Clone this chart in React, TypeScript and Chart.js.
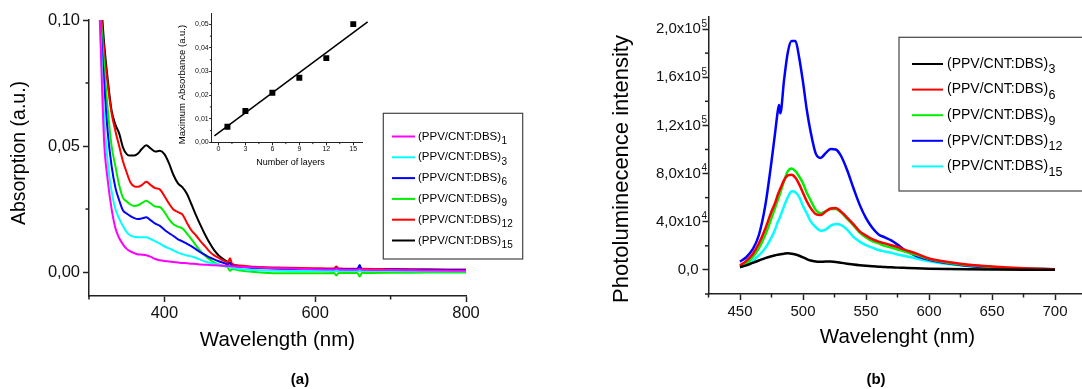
import React, { useEffect, useRef } from "react";
import { Chart, registerables } from "chart.js";

Chart.register(...registerables);

const FONT = "'Liberation Sans', Arial, Helvetica, sans-serif";
Chart.defaults.font.family = FONT;

// ---------------- Panel (a): absorption spectra ----------------
const wavelengthA = [
  310, 315, 320, 325, 330, 335, 340, 345, 350, 355,
  360, 365, 370, 376, 382, 388, 394, 400, 406, 412,
  418, 424, 430, 436, 442, 448, 454, 460, 466, 472,
  478, 484, 487, 490, 500, 520, 550, 600, 625, 628,
  631, 650, 656, 659, 662, 700, 750, 800,
];
const absLayers1 = [
  0.14, 0.094, 0.052, 0.036, 0.025, 0.0175, 0.0135, 0.011, 0.0092, 0.0082,
  0.0075, 0.007, 0.0069, 0.0067, 0.006, 0.0052, 0.0047, 0.0044, 0.0042, 0.004,
  0.0038, 0.0036, 0.0035, 0.0033, 0.0032, 0.003, 0.0029, 0.0028, 0.0027, 0.0026,
  0.0025, 0.0024, 0.0024, 0.0023, 0.0021, 0.0018, 0.0015, 0.0011, 0.001, 0.0014,
  0.001, 0.0009, 0.0009, 0.0012, 0.0009, 0.0008, 0.0006, 0.0005,
];
const absLayers3 = [
  0.14, 0.098, 0.062, 0.043, 0.032, 0.025, 0.0212, 0.0183, 0.0158, 0.0145,
  0.014, 0.0138, 0.0138, 0.0138, 0.013, 0.0122, 0.0113, 0.0102, 0.0094, 0.0086,
  0.0077, 0.0071, 0.0066, 0.0062, 0.0056, 0.0049, 0.0042, 0.0037, 0.0033, 0.0029,
  0.0025, 0.0021, 0.0019, 0.0017, 0.0012, 0.0008, 0.0005, 0.0004, 0.0004, 0.0004,
  0.0004, 0.0004, 0.0004, 0.0004, 0.0004, 0.0004, 0.0003, 0.0003,
];
const absLayers6 = [
  0.14, 0.101, 0.075, 0.055, 0.042, 0.0335, 0.0285, 0.0245, 0.0232, 0.0222,
  0.0214, 0.021, 0.0213, 0.0217, 0.0205, 0.0192, 0.0183, 0.0168, 0.0155, 0.0143,
  0.013, 0.0122, 0.0112, 0.0102, 0.009, 0.0078, 0.0068, 0.0058, 0.005, 0.0043,
  0.0037, 0.0031, 0.0035, 0.0025, 0.0021, 0.0017, 0.0014, 0.0012, 0.0011, 0.0015,
  0.0011, 0.0011, 0.0011, 0.0028, 0.0004, 0.001, 0.0009, 0.0008,
];
const absLayers9 = [
  0.14, 0.105, 0.082, 0.064, 0.05, 0.042, 0.0345, 0.0295, 0.028, 0.0268,
  0.0262, 0.0265, 0.0273, 0.0283, 0.0272, 0.026, 0.0258, 0.0238, 0.021, 0.019,
  0.018, 0.0173, 0.0152, 0.013, 0.0105, 0.0083, 0.0065, 0.005, 0.0038, 0.003,
  0.0024, 0.0018, 0.0005, 0.0012, 0.0006, 0.0, -0.0005, -0.0005, -0.0004, -0.0014,
  -0.0004, -0.0004, -0.0004, -0.0018, -0.0004, -0.0003, -0.0002, -0.0002,
];
const absLayers12 = [
  0.14, 0.108, 0.088, 0.074, 0.063, 0.056, 0.05, 0.044, 0.0395, 0.0355,
  0.034, 0.0338, 0.0345, 0.0358, 0.0345, 0.0333, 0.0328, 0.0302, 0.0272, 0.0248,
  0.0238, 0.0228, 0.0195, 0.0165, 0.0145, 0.0122, 0.0102, 0.0081, 0.0066, 0.0056,
  0.0046, 0.0038, 0.0055, 0.0031, 0.0026, 0.0021, 0.0018, 0.0015, 0.0014, 0.0022,
  0.0014, 0.0013, 0.0013, 0.002, 0.0013, 0.0012, 0.0011, 0.001,
];
const absLayers15 = [
  0.14, 0.113, 0.091, 0.076, 0.064, 0.0585, 0.055, 0.0495, 0.0468, 0.0462,
  0.0462, 0.047, 0.0488, 0.0503, 0.049, 0.0478, 0.0481, 0.0468, 0.0432, 0.0385,
  0.0352, 0.0336, 0.031, 0.0268, 0.0225, 0.0185, 0.0148, 0.0115, 0.0087, 0.0066,
  0.0052, 0.004, 0.0036, 0.003, 0.0023, 0.0018, 0.0014, 0.0011, 0.001, 0.0016,
  0.001, 0.0009, 0.0009, 0.0018, 0.0009, 0.0008, 0.0007, 0.0006,
];
const seriesA = [
  { sub: "1", values: absLayers1, color: "#ff00ff" },
  { sub: "3", values: absLayers3, color: "#00ffff" },
  { sub: "6", values: absLayers6, color: "#0000ff" },
  { sub: "9", values: absLayers9, color: "#00ee00" },
  { sub: "12", values: absLayers12, color: "#ff0000" },
  { sub: "15", values: absLayers15, color: "#000000" },
];
const xTicksA = [400, 600, 800];
const xMinorA = [300, 500, 700];
const yTicksA = [0, 0.05, 0.1];
const yTickLabelsA = ["0,00", "0,05", "0,10"];
const yMinorA = [0.025, 0.075];

// ---------------- Inset: maximum absorbance vs layers ----------------
const insetLayers = [1, 3, 6, 9, 12, 15];
const insetMaxAbs = [0.0066, 0.0133, 0.021, 0.0274, 0.0357, 0.0501];
const fitLayers = [-0.45, 16.6];
const fitAbs = [0.0027, 0.0511];
const insetXTicks = [0, 3, 6, 9, 12, 15];
const insetXMinor = [1.5, 4.5, 7.5, 10.5, 13.5];
const insetYTicks = [0, 0.01, 0.02, 0.03, 0.04, 0.05];
const insetYTickLabels = ["0,00", "0,01", "0,02", "0,03", "0,04", "0,05"];
const insetYMinor = [0.005, 0.015, 0.025, 0.035, 0.045];

// ---------------- Panel (b): photoluminescence ----------------
const wavelengthB = [
  450, 455, 460, 465, 470, 475, 478, 480, 481, 482,
  485, 488, 491, 494, 497, 500, 503, 506, 510, 514,
  518, 522, 526, 530, 535, 540, 545, 550, 555, 560,
  565, 570, 575, 580, 590, 600, 615, 630, 650, 675,
  700,
];
const plLayers3 = [
  2200, 3800, 5800, 7800, 9800, 11400, 12200, 12600, 12800, 13000,
  13500, 13800, 13500, 12800, 11800, 10500, 9000, 7800, 7000, 6800,
  6900, 6900, 6600, 6000, 5200, 4500, 3900, 3400, 3000, 2700,
  2400, 2200, 1900, 1700, 1300, 1000, 700, 500, 300, 100,
  50,
];
const plLayers6 = [
  3600, 7500, 13000, 22000, 34000, 48500, 56000, 62500, 65000, 67500,
  74500, 78500, 79000, 76500, 71000, 64000, 57000, 51500, 46500, 45500,
  48500, 51000, 51500, 48500, 43500, 38000, 32000, 28500, 25500, 23500,
  22000, 20500, 19000, 17000, 13500, 9500, 6500, 4500, 2800, 1400,
  600,
];
const plLayers9 = [
  2800, 5500, 10500, 18000, 29000, 43000, 52000, 58000, 61000, 64000,
  74000, 82000, 84300, 82000, 77500, 72000, 64000, 58000, 50000, 47000,
  48800, 50500, 50500, 48000, 42500, 37000, 31000, 27000, 24000, 22000,
  20000, 18600, 17000, 15500, 12500, 9000, 6000, 4000, 2500, 1200,
  500,
];
const plLayers12 = [
  6900, 10500, 17000, 29000, 53000, 90000, 115000, 132000, 137000, 130000,
  158000, 181000, 190000, 190000, 176000, 156000, 133000, 115000, 97000, 93000,
  97000, 100500, 100000, 95000, 83000, 68000, 54000, 43000, 35000, 29500,
  27000, 24500, 21000, 17000, 11500, 8500, 5500, 3500, 2000, 1000,
  600,
];
const plLayers15 = [
  2200, 4200, 7500, 12000, 18000, 27000, 34000, 40000, 42000, 44500,
  53000, 60500, 65300, 64500, 60500, 53000, 47000, 40500, 35500, 32500,
  33500, 36800, 38200, 37300, 33500, 27500, 23500, 20500, 18500, 16500,
  15300, 14200, 12800, 11800, 9500, 7200, 5000, 3400, 2000, 1000,
  500,
];
const seriesB = [
  { sub: "3", values: plLayers3, color: "#000000" },
  { sub: "6", values: plLayers6, color: "#ff0000" },
  { sub: "9", values: plLayers9, color: "#00ee00" },
  { sub: "12", values: plLayers12, color: "#0000ff" },
  { sub: "15", values: plLayers15, color: "#00ffff" },
];
const xTicksB = [450, 500, 550, 600, 650, 700];
const xMinorB = [425, 475, 525, 575, 625, 675, 725];
const yTicksB = [0, 40000, 80000, 120000, 160000, 200000];
const yTickMantissaB = ["0,0", "4,0x10", "8,0x10", "1,2x10", "1,6x10", "2,0x10"];
const yTickExponentB = ["", "4", "4", "5", "5", "5"];
const yMinorB = [-20000, 20000, 60000, 100000, 140000, 180000];

const LEGEND_BASE = "(PPV/CNT:DBS)";
const AXIS_COLOR = "#222";

// ---------------- helper plugins ----------------
function makeMinorTicks(xs: number[], ys: number[], len: number, width: number) {
  return {
    id: "minorTicks",
    afterDraw(chart: any) {
      const ctx = chart.ctx;
      const sx = chart.scales.x;
      const sy = chart.scales.y;
      ctx.save();
      ctx.strokeStyle = AXIS_COLOR;
      ctx.lineWidth = width;
      xs.forEach((v) => {
        const px = sx.getPixelForValue(v);
        ctx.beginPath();
        ctx.moveTo(px, sx.top);
        ctx.lineTo(px, sx.top + len);
        ctx.stroke();
      });
      ys.forEach((v) => {
        const py = sy.getPixelForValue(v);
        ctx.beginPath();
        ctx.moveTo(sy.right, py);
        ctx.lineTo(sy.right - len, py);
        ctx.stroke();
      });
      ctx.restore();
    },
  };
}

// y tick labels in scientific notation with real superscript exponents
function makeSciYLabels(values: number[], mant: string[], exps: string[], gapExp: number, gapPlain: number, size: number, expSize: number, expDy: number) {
  return {
    id: "sciYLabels",
    afterDraw(chart: any) {
      const ctx = chart.ctx;
      const sy = chart.scales.y;
      ctx.save();
      ctx.fillStyle = "#111";
      ctx.textBaseline = "middle";
      values.forEach((v, i) => {
        const py = sy.getPixelForValue(v);
        if (exps[i]) {
          const right = sy.right - gapExp;
          ctx.font = `${expSize}px ${FONT}`;
          const ew = ctx.measureText(exps[i]).width;
          ctx.textAlign = "left";
          ctx.fillText(exps[i], right - ew, py + expDy);
          ctx.font = `${size}px ${FONT}`;
          ctx.textAlign = "right";
          ctx.fillText(mant[i], right - ew - 0.5, py);
        } else {
          ctx.font = `${size}px ${FONT}`;
          ctx.textAlign = "right";
          ctx.fillText(mant[i], sy.right - gapPlain, py);
        }
      });
      ctx.restore();
    },
  };
}

type TextItem = { text: string; x: number; y: number; size: number; bold?: boolean; rotate?: boolean };
function makeTexts(items: TextItem[]) {
  return {
    id: "extraTexts",
    afterDraw(chart: any) {
      const ctx = chart.ctx;
      items.forEach((it) => {
        ctx.save();
        ctx.font = `${it.bold ? "bold " : ""}${it.size}px ${FONT}`;
        ctx.fillStyle = "#000";
        ctx.textAlign = "center";
        ctx.textBaseline = "middle";
        ctx.translate(it.x, it.y);
        if (it.rotate) ctx.rotate(-Math.PI / 2);
        ctx.fillText(it.text, 0, 0);
        ctx.restore();
      });
    },
  };
}

type LegendCfg = {
  x: number; y: number; w: number; h: number;
  firstY: number; step: number; lineX0: number; lineX1: number; textX: number;
  size: number; subSize: number; subDy: number;
  items: { sub: string; color: string }[];
};
function makeLegend(cfg: LegendCfg) {
  return {
    id: "boxLegend",
    afterDraw(chart: any) {
      const ctx = chart.ctx;
      ctx.save();
      ctx.fillStyle = "#fff";
      ctx.fillRect(cfg.x, cfg.y, cfg.w, cfg.h);
      ctx.strokeStyle = "#444";
      ctx.lineWidth = 1.2;
      ctx.strokeRect(cfg.x, cfg.y, cfg.w, cfg.h);
      cfg.items.forEach((it, i) => {
        const y = cfg.firstY + i * cfg.step;
        ctx.strokeStyle = it.color;
        ctx.lineWidth = 2;
        ctx.beginPath();
        ctx.moveTo(cfg.lineX0, y);
        ctx.lineTo(cfg.lineX1, y);
        ctx.stroke();
        ctx.fillStyle = "#000";
        ctx.textAlign = "left";
        ctx.textBaseline = "middle";
        ctx.font = `${cfg.size}px ${FONT}`;
        ctx.fillText(LEGEND_BASE, cfg.textX, y);
        const w = ctx.measureText(LEGEND_BASE).width;
        ctx.font = `${cfg.subSize}px ${FONT}`;
        ctx.fillText(it.sub, cfg.textX + w + 0.5, y + cfg.subDy);
      });
      ctx.restore();
    },
  };
}

function axisBase(size: number, tickLen: number, width: number, pad: number) {
  return {
    grid: { display: true, drawOnChartArea: false, drawTicks: true, tickLength: tickLen, tickColor: AXIS_COLOR, tickWidth: width },
    border: { display: true, color: AXIS_COLOR, width },
    ticks: { font: { size, family: FONT }, color: "#111", padding: pad, maxRotation: 0, autoSkip: false },
  };
}

// ---------------- chart builders ----------------
function buildPanelA(canvas: HTMLCanvasElement) {
  const W = 540, H = 389;
  const left = 89, right = 466, top = 20, bottom = 296;
  const xb = axisBase(16.5, 6, 1.5, 2);
  const yb = axisBase(16.5, 6, 1.5, 3);
  return new Chart(canvas, {
    type: "line",
    data: {
      datasets: seriesA.map((s) => ({
        label: LEGEND_BASE + s.sub,
        data: wavelengthA.map((x, i) => ({ x, y: s.values[i] })),
        borderColor: s.color,
        backgroundColor: s.color,
        borderWidth: 2,
        pointRadius: 0,
        cubicInterpolationMode: "monotone" as const,
      })),
    },
    options: {
      responsive: false,
      animation: false,
      devicePixelRatio: 1,
      layout: { padding: { left: 0, top, right: W - right, bottom: 0 } },
      plugins: { legend: { display: false }, tooltip: { enabled: false } },
      scales: {
        x: {
          type: "linear", min: 300, max: 800, ...xb,
          afterBuildTicks: (s: any) => { s.ticks = xTicksA.map((v) => ({ value: v })); },
          ticks: { ...xb.ticks, callback: (v: any) => String(v) },
          afterFit: (s: any) => { s.height = H - bottom; },
        },
        y: {
          type: "linear", min: -0.0095, max: 0.1, ...yb,
          afterBuildTicks: (s: any) => { s.ticks = yTicksA.map((v) => ({ value: v })); },
          ticks: { ...yb.ticks, callback: (v: any) => yTickLabelsA[yTicksA.indexOf(v)] },
          afterFit: (s: any) => { s.width = left; },
        },
      },
    } as any,
    plugins: [
      makeMinorTicks(xMinorA, yMinorA, 3.5, 1.5),
      makeLegend({
        x: 383.3, y: 113.3, w: 139.4, h: 145.7,
        firstY: 136.5, step: 20.8, lineX0: 392, lineX1: 415, textX: 418,
        size: 11.5, subSize: 10, subDy: 4.5,
        items: seriesA.map((s) => ({ sub: s.sub, color: s.color })),
      }),
      makeTexts([
        { text: "Absorption (a.u.)", x: 20, y: 153, size: 19.5, rotate: true },
        { text: "Wavelength (nm)", x: 277.5, y: 340, size: 20.5 },
        { text: "(a)", x: 300, y: 379.5, size: 15, bold: true },
      ]),
    ],
  });
}

function buildInset(canvas: HTMLCanvasElement) {
  const W = 230, H = 175;
  const left = 61.7, right = 212.7, top = 13.3, bottom = 142.3;
  const xb = axisBase(7, 3, 1, 0);
  const yb = axisBase(7, 2.5, 1, 0.5);
  return new Chart(canvas, {
    type: "scatter",
    data: {
      datasets: [
        {
          label: "Maximum Absorbance",
          data: insetLayers.map((x, i) => ({ x, y: insetMaxAbs[i] })),
          pointStyle: "rect",
          pointRadius: 4.2,
          backgroundColor: "#000",
          borderColor: "#000",
          borderWidth: 0,
        },
        {
          type: "line",
          label: "Linear fit",
          data: fitLayers.map((x, i) => ({ x, y: fitAbs[i] })),
          borderColor: "#000",
          borderWidth: 1.5,
          pointRadius: 0,
          showLine: true,
          clip: false,
        },
      ],
    } as any,
    options: {
      responsive: false,
      animation: false,
      devicePixelRatio: 1,
      layout: { padding: { left: 0, top, right: W - right, bottom: 0 } },
      plugins: { legend: { display: false }, tooltip: { enabled: false } },
      scales: {
        x: {
          type: "linear", min: -0.75, max: 16.05, ...xb,
          afterBuildTicks: (s: any) => { s.ticks = insetXTicks.map((v) => ({ value: v })); },
          ticks: { ...xb.ticks, callback: (v: any) => String(v) },
          afterFit: (s: any) => { s.height = H - bottom; },
        },
        y: {
          type: "linear", min: 0, max: 0.0547, ...yb,
          afterBuildTicks: (s: any) => { s.ticks = insetYTicks.map((v) => ({ value: v })); },
          ticks: { ...yb.ticks, callback: (v: any) => insetYTickLabels[insetYTicks.indexOf(v)] },
          afterFit: (s: any) => { s.width = left; },
        },
      },
    } as any,
    plugins: [
      makeMinorTicks(insetXMinor, insetYMinor, 1.8, 1),
      makeTexts([
        { text: "Maximum Absorbance (a.u.)", x: 32, y: 84.5, size: 9.5, rotate: true },
        { text: "Number of layers", x: 140.5, y: 163, size: 9 },
      ]),
    ],
  });
}

function buildPanelB(canvas: HTMLCanvasElement) {
  const W = 560, H = 389;
  const left = 148.5, right = 526.5, top = 17, bottom = 294;
  const xb = axisBase(15, 6, 1.5, 3);
  const yb = axisBase(15, 6, 1.5, 2);
  return new Chart(canvas, {
    type: "line",
    data: {
      datasets: seriesB.map((s) => ({
        label: LEGEND_BASE + s.sub,
        data: wavelengthB.map((x, i) => ({ x, y: s.values[i] })),
        borderColor: s.color,
        backgroundColor: s.color,
        borderWidth: 2.5,
        pointRadius: 0,
        cubicInterpolationMode: "monotone" as const,
      })),
    },
    options: {
      responsive: false,
      animation: false,
      devicePixelRatio: 1,
      layout: { padding: { left: 0, top, right: W - right, bottom: 0 } },
      plugins: { legend: { display: false }, tooltip: { enabled: false } },
      scales: {
        x: {
          type: "linear", min: 425, max: 725, ...xb,
          afterBuildTicks: (s: any) => { s.ticks = xTicksB.map((v) => ({ value: v })); },
          ticks: { ...xb.ticks, callback: (v: any) => String(v) },
          afterFit: (s: any) => { s.height = H - bottom; },
        },
        y: {
          type: "linear", min: -20000, max: 210000, ...yb,
          afterBuildTicks: (s: any) => { s.ticks = yTicksB.map((v) => ({ value: v })); },
          ticks: { ...yb.ticks, display: false },
          afterFit: (s: any) => { s.width = left; },
        },
      },
    } as any,
    plugins: [
      makeMinorTicks(xMinorB, yMinorB, 3.5, 1.5),
      makeSciYLabels(yTicksB, yTickMantissaB, yTickExponentB, 1.5, 10, 15, 10, -5),
      makeLegend({
        x: 339, y: 37.3, w: 220, h: 153.7,
        firstY: 64, step: 25.6, lineX0: 352, lineX1: 383, textX: 387,
        size: 14, subSize: 12.5, subDy: 6,
        items: seriesB.map((s) => ({ sub: s.sub, color: s.color })),
      }),
      makeTexts([
        { text: "Photoluminecence intensity", x: 61.7, y: 169, size: 22, rotate: true },
        { text: "Wavelenght (nm)", x: 337.5, y: 337, size: 20.5 },
        { text: "(b)", x: 316, y: 379.5, size: 15, bold: true },
      ]),
    ],
  });
}

export default function App() {
  const aRef = useRef<HTMLCanvasElement>(null);
  const insetRef = useRef<HTMLCanvasElement>(null);
  const bRef = useRef<HTMLCanvasElement>(null);

  useEffect(() => {
    const charts: Chart[] = [];
    if (aRef.current) charts.push(buildPanelA(aRef.current));
    if (insetRef.current) charts.push(buildInset(insetRef.current));
    if (bRef.current) charts.push(buildPanelB(bRef.current));
    return () => charts.forEach((c) => c.destroy());
  }, []);

  return (
    <div
      style={{
        position: "fixed", left: 0, top: 0, width: 1082, height: 389,
        overflow: "hidden", background: "#fff",
      }}
    >
      <canvas ref={aRef} width={540} height={389} style={{ position: "absolute", left: 0, top: 0, width: 540, height: 389 }} />
      <canvas ref={insetRef} width={230} height={175} style={{ position: "absolute", left: 150, top: 0, width: 230, height: 175 }} />
      <canvas ref={bRef} width={560} height={389} style={{ position: "absolute", left: 560, top: 0, width: 560, height: 389 }} />
    </div>
  );
}
